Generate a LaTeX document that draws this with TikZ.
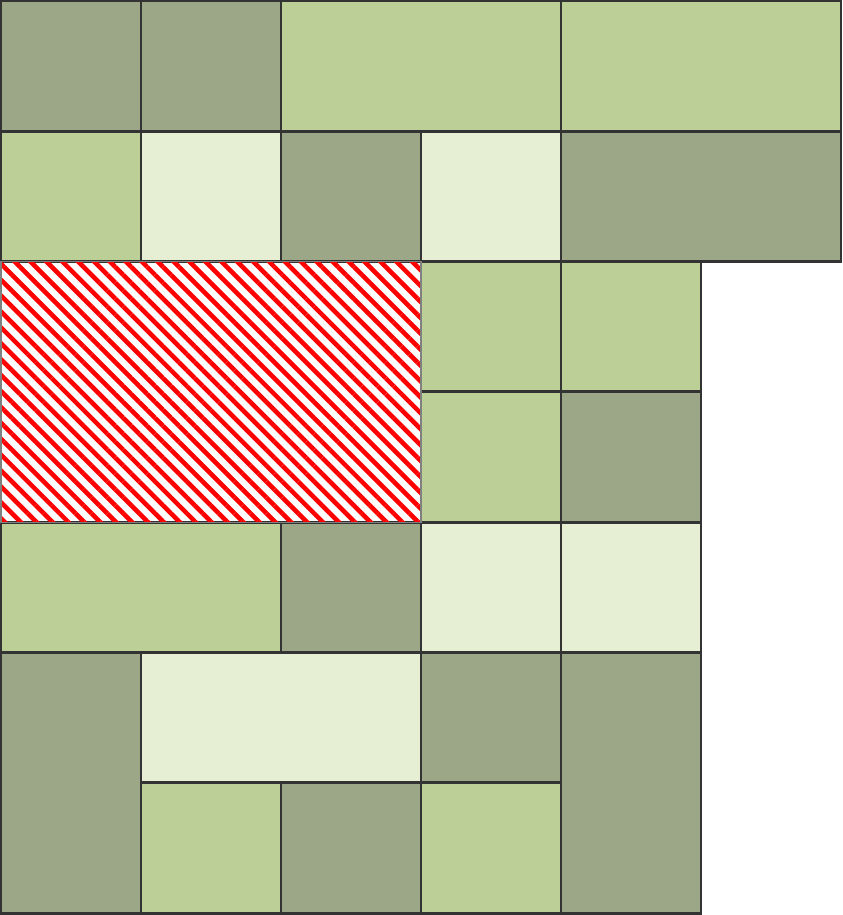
\documentclass[tikz,border=0pt]{standalone}
\usepackage{xcolor}
\usepackage{tikz}
\usetikzlibrary{patterns.meta}
\definecolor{tiledark}{HTML}{9CA788}
\definecolor{tilemid}{HTML}{BBCF96}
\definecolor{tilelight}{HTML}{E6EFD3}
\definecolor{tileedge}{HTML}{333333}

\begin{document}
\begin{tikzpicture}[
    x=1.4cm, y=-1.303cm,
    tile/.style={draw=tileedge, line width=0.85pt},
    dark/.style={tile, fill=tiledark},
    mid/.style={tile, fill=tilemid},
    light/.style={tile, fill=tilelight},
    blocked/.style={draw=gray, line width=0.3pt,
                    pattern={Lines[angle=-45, distance=3.2pt, line width=1.3pt]},
                    pattern color=red},
]
    \useasboundingbox (-0.01cm,0.01cm) rectangle (8.42cm,-9.14cm);

    % Dark tiles (col/row/width/height)
    \foreach \x/\y/\w/\h in {0/0/1/1, 1/0/1/1, 2/1/1/1, 4/1/2/1, 4/3/1/1,
                             2/4/1/1, 0/5/1/2, 3/5/1/1, 4/5/1/2, 2/6/1/1}
        \draw[dark] (\x,\y) rectangle ++(\w,\h);

    % Mid green tiles
    \foreach \x/\y/\w/\h in {2/0/2/1, 4/0/2/1, 0/1/1/1, 3/2/1/1, 4/2/1/1,
                             3/3/1/1, 0/4/2/1, 1/6/1/1, 3/6/1/1}
        \draw[mid] (\x,\y) rectangle ++(\w,\h);

    % Light tiles
    \foreach \x/\y/\w/\h in {1/1/1/1, 3/1/1/1, 3/4/1/1, 4/4/1/1, 1/5/2/1}
        \draw[light] (\x,\y) rectangle ++(\w,\h);

    % Hatched area
    \draw[blocked] (0,2) rectangle ++(3,2);
\end{tikzpicture}
\end{document}
